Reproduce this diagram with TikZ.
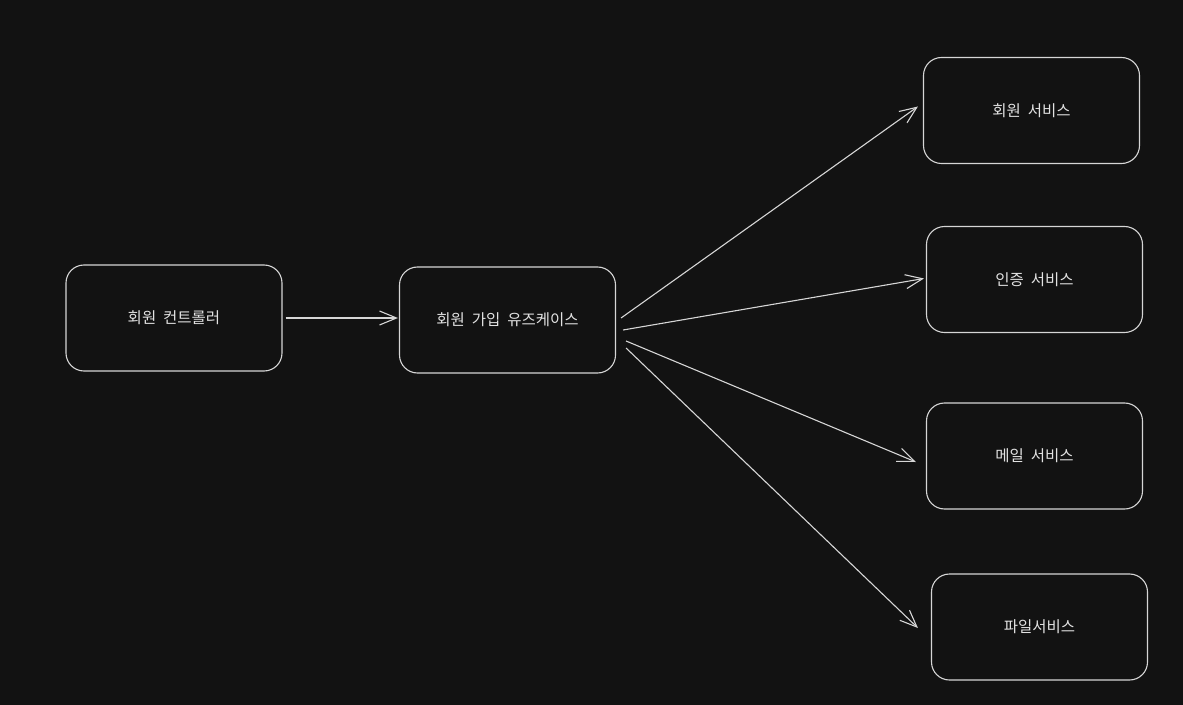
\documentclass[tikz,border=0pt]{standalone}
\usepackage{fontspec}
\newfontfamily\kr[WordSpace=2]{Noto Sans CJK KR}
\usetikzlibrary{arrows.meta}
\definecolor{bg}{HTML}{121212}
\definecolor{ink}{HTML}{D6D6D6}
\definecolor{txt}{HTML}{E2E2E2}
\tikzset{
  box/.style={draw=ink, line width=1.1bp, rounded corners=18bp, minimum width=216bp, minimum height=106bp, inner sep=0pt, text=txt, font=\kr\fontsize{15.5bp}{18bp}\selectfont},
  conn/.style={draw=ink, line width=1.1bp, -{Straight Barb[length=17bp,width=14bp,line width=1.1bp]}}
}
\begin{document}
\begin{tikzpicture}[x=1bp,y=-1bp]
\fill[bg] (0,0) rectangle (1183,705);
\useasboundingbox (0,0) rectangle (1183,705);
\node[box] (ctl) at (174,318) {회원 컨트롤러};
\node[box] (uc) at (507.5,320) {회원 가입 유즈케이스};
\node[box] (s1) at (1031.5,110.5) {회원 서비스};
\node[box] (s2) at (1034.5,279.5) {인증 서비스};
\node[box] (s3) at (1034.5,456) {메일 서비스};
\node[box] (s4) at (1039.5,627) {파일서비스};
\draw[conn] ([shift={(3,0)}]ctl.east) -- ([shift={(-1,-2)}]uc.west);
\draw[conn] ([shift={(5,-2)}]uc.east) -- ([shift={(-5,-4)}]s1.west);
\draw[conn] ([shift={(7,10)}]uc.east) -- ([shift={(-2,-1)}]s2.west);
\draw[conn] ([shift={(10,21)}]uc.east) -- ([shift={(-10,6)}]s3.west);
\draw[conn] ([shift={(10,28)}]uc.east) -- ([shift={(-13,1)}]s4.west);
\end{tikzpicture}
\end{document}
